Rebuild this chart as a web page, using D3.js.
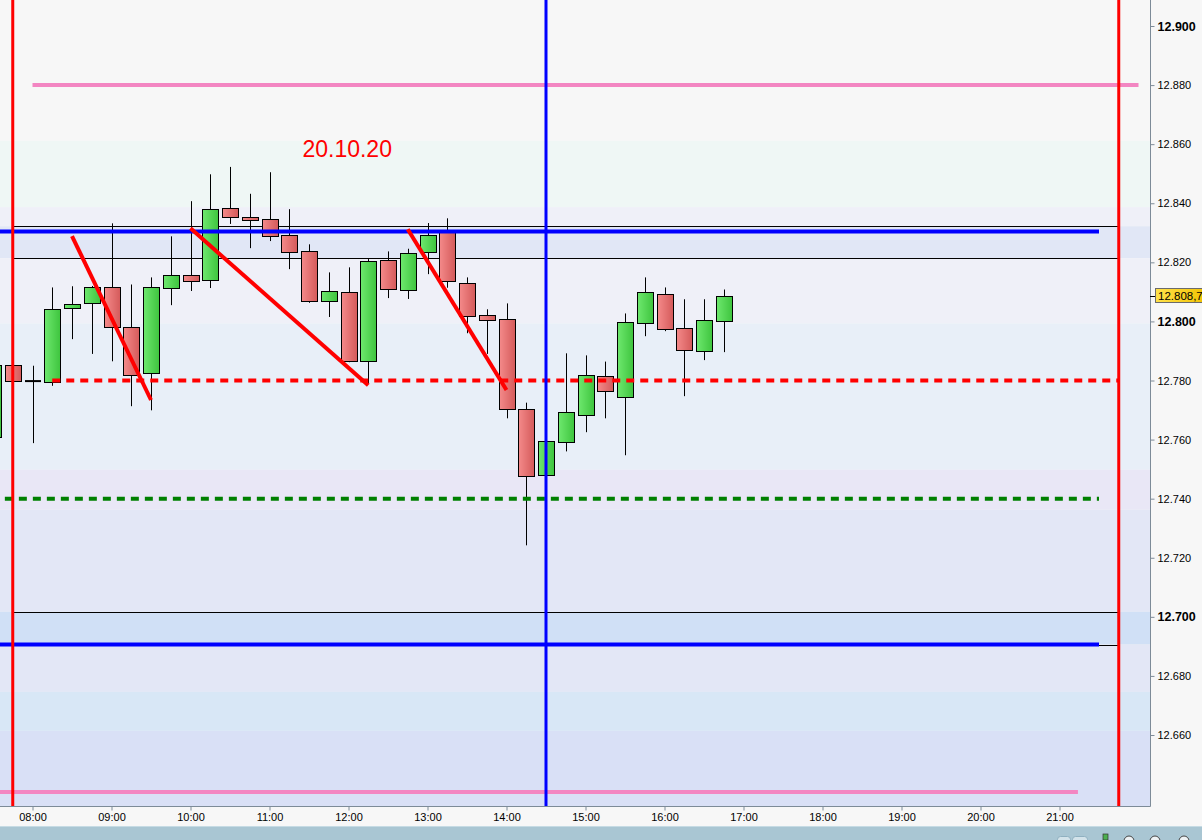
<!DOCTYPE html>
<html>
<head>
<meta charset="utf-8">
<script src="https://cdn.jsdelivr.net/npm/d3@7"></script>
<style>
  body { margin: 0; background: #f7f7f7; overflow: hidden; }
  svg { display: block; font-family: "Liberation Sans", Arial, sans-serif; }
</style>
</head>
<body>
<div id="chart"></div>
<script>
// 15 min candles, 20.10.20
var times  = ["07:30","07:45","08:00","08:15","08:30","08:45","09:00","09:15","09:30","09:45",
              "10:00","10:15","10:30","10:45","11:00","11:15","11:30","11:45","12:00","12:15",
              "12:30","12:45","13:00","13:15","13:30","13:45","14:00","14:15","14:30","14:45",
              "15:00","15:15","15:30","15:45","16:00","16:15","16:30","16:45"];
var opens  = [12.7607,12.7851,12.7798,12.7796,12.8047,12.8063,12.8118,12.7982,12.7826,12.8114,
              12.8158,12.8141,12.8385,12.8352,12.8348,12.8294,12.8240,12.8070,12.8100,12.7867,
              12.8209,12.8107,12.8236,12.8305,12.8131,12.8023,12.8009,12.7704,12.7480,12.7592,
              12.7684,12.7816,12.7745,12.7996,12.8094,12.7979,12.7901,12.8002];
var highs  = [12.7870,12.7855,12.7850,12.8115,12.8119,12.8120,12.8332,12.8125,12.8149,12.8288,
              12.8407,12.8498,12.8523,12.8432,12.8505,12.8380,12.8261,12.8166,12.8183,12.8211,
              12.8237,12.8246,12.8333,12.8349,12.8149,12.8041,12.8061,12.7725,12.7600,12.7892,
              12.7885,12.7864,12.8027,12.8149,12.8115,12.8075,12.8075,12.8108];
var lows   = [12.7580,12.7797,12.7588,12.7782,12.7940,12.7890,12.7865,12.7713,12.7699,12.8055,
              12.8103,12.8113,12.8330,12.8248,12.8272,12.8177,12.8063,12.8015,12.7862,12.7789,
              12.8079,12.8076,12.8160,12.8114,12.7960,12.7890,12.7672,12.7242,12.7480,12.7560,
              12.7625,12.7672,12.7547,12.7950,12.7967,12.7747,12.7869,12.7896];
var closes = [12.7851,12.7797,12.7798,12.8043,12.8060,12.8118,12.7982,12.7819,12.8118,12.8158,
              12.8138,12.8382,12.8355,12.8341,12.8290,12.8236,12.8070,12.8104,12.7867,12.8206,
              12.8111,12.8233,12.8294,12.8135,12.8019,12.8006,12.7704,12.7477,12.7596,12.7694,
              12.7819,12.7765,12.7999,12.8101,12.7975,12.7904,12.8006,12.8087];
var lastPrice = 12.8087;

var hourTicks  = ["08:00","09:00","10:00","11:00","12:00","13:00","14:00",
                  "15:00","16:00","17:00","18:00","19:00","20:00","21:00"];
var priceTicks = [12.66,12.68,12.70,12.72,12.74,12.76,12.78,12.80,12.82,12.84,12.86,12.88,12.90];

// background colour zones (price edges, top to bottom)
var bandEdges  = [12.92,12.8611,12.8387,12.8322,12.8214,12.7993,12.7498,12.7363,12.7017,12.6906,12.6746,12.6614,12.62];
var bandColors = ["#f7f7f7","#eff7f5","#eff0f8","#e1e7f6","#eff0f8","#e8eff8",
                  "#e9e7f6","#e3e7f6","#d0e0f6","#e3e7f6","#d8e7f6","#d9e0f6"];

// drawn objects
var zoneLines   = [12.8323,12.8215,12.7018,12.6906];
var blueLevels  = [12.8304,12.6906];
var redLevel    = 12.780;
var greenLevel  = 12.740;
var pinkLevels  = [12.880,12.6407];
var markerTimes = ["07:45","14:30","21:45"];
var trendFrom   = [["08:30",12.8289],["10:00",12.8315],["12:45",12.8312]];
var trendTo     = [["09:30",12.7734],["12:15",12.7784],["14:00",12.7768]];
var dateLabel   = "20.10.20";

function mins(s) { var p = s.split(":"); return +p[0] * 60 + +p[1]; }

var W = 1202, H = 840, plotW = 1150, plotH = 806;

var x = d3.scaleLinear().domain([mins("08:00"), mins("21:00")]).range([32.5, 1059.5]);
var y = d3.scaleLinear().domain([12.66, 12.90]).range([735, 26]);

var svg = d3.select("#chart").append("svg")
  .attr("width", W)
  .attr("height", H);

var defs = svg.append("defs");
defs.append("clipPath").attr("id", "plot")
  .append("rect").attr("width", plotW).attr("height", plotH);

function grad(id, c1, c2) {
  var g = defs.append("linearGradient").attr("id", id)
    .attr("x1", "0%").attr("x2", "100%").attr("y1", "0%").attr("y2", "0%");
  g.append("stop").attr("offset", "0%").attr("stop-color", c1);
  g.append("stop").attr("offset", "100%").attr("stop-color", c2);
}
grad("up", "#6ee86e", "#3ec43e");
grad("down", "#f48a8a", "#d45a5a");
grad("price", "#ffe14a", "#f2c200");

svg.append("rect").attr("width", W).attr("height", H).attr("fill", "#f7f7f7");

var plot = svg.append("g").attr("clip-path", "url(#plot)");

// bands
plot.append("g").selectAll("rect")
  .data(bandColors)
  .enter().append("rect")
  .attr("x", 0)
  .attr("width", plotW)
  .attr("y", function (d, i) { return y(bandEdges[i]); })
  .attr("height", function (d, i) { return y(bandEdges[i + 1]) - y(bandEdges[i]); })
  .attr("fill", function (d) { return d; });

// thin black zone borders
plot.append("g").selectAll("line")
  .data(zoneLines)
  .enter().append("line")
  .attr("x1", x(mins("07:45")) + 1)
  .attr("x2", x(mins("21:45")))
  .attr("y1", function (d) { return Math.round(y(d)) + 0.5; })
  .attr("y2", function (d) { return Math.round(y(d)) + 0.5; })
  .attr("stroke", "#000")
  .attr("stroke-width", 1);

// candles
var candles = plot.append("g").selectAll("g")
  .data(times)
  .enter().append("g");

candles.append("line")
  .attr("x1", function (d) { return Math.round(x(mins(d))) + 0.5; })
  .attr("x2", function (d) { return Math.round(x(mins(d))) + 0.5; })
  .attr("y1", function (d, i) { return y(highs[i]); })
  .attr("y2", function (d, i) { return y(lows[i]); })
  .attr("stroke", "#000")
  .attr("stroke-width", 1);

candles.each(function (d, i) {
  var g = d3.select(this);
  var cx = Math.round(x(mins(d)));
  var yo = y(opens[i]), yc = y(closes[i]);
  if (Math.abs(yo - yc) < 1) {
    g.append("line")
      .attr("x1", cx - 8).attr("x2", cx + 8)
      .attr("y1", yo).attr("y2", yo)
      .attr("stroke", "#000").attr("stroke-width", 2);
  } else {
    g.append("rect")
      .attr("x", cx - 7.5)
      .attr("width", 16)
      .attr("y", Math.round(Math.min(yo, yc)) + 0.5)
      .attr("height", Math.round(Math.abs(yo - yc)))
      .attr("fill", closes[i] > opens[i] ? "url(#up)" : "url(#down)")
      .attr("stroke", "#000")
      .attr("stroke-width", 1);
  }
});

// blue levels
plot.append("g").selectAll("line")
  .data(blueLevels)
  .enter().append("line")
  .attr("x1", 0)
  .attr("x2", x(mins("21:30")))
  .attr("y1", function (d) { return y(d); })
  .attr("y2", function (d) { return y(d); })
  .attr("stroke", "#0000ff")
  .attr("stroke-width", 4);

// dashed levels
plot.append("line")
  .attr("x1", x(mins("08:15"))).attr("x2", x(mins("21:45")))
  .attr("y1", y(redLevel)).attr("y2", y(redLevel))
  .attr("stroke", "#ff0000").attr("stroke-width", 4)
  .attr("stroke-dasharray", "8,6");

plot.append("line")
  .attr("x1", x(mins("07:39"))).attr("x2", x(mins("21:30")))
  .attr("y1", y(greenLevel)).attr("y2", y(greenLevel))
  .attr("stroke", "#008000").attr("stroke-width", 4)
  .attr("stroke-dasharray", "8,6");

// pink levels
plot.append("line")
  .attr("x1", x(mins("08:00"))).attr("x2", x(mins("22:00")))
  .attr("y1", y(pinkLevels[0])).attr("y2", y(pinkLevels[0]))
  .attr("stroke", "#f386c2").attr("stroke-width", 4);
plot.append("line")
  .attr("x1", 0).attr("x2", x(mins("21:14")))
  .attr("y1", y(pinkLevels[1])).attr("y2", y(pinkLevels[1]))
  .attr("stroke", "#f386c2").attr("stroke-width", 4);

// vertical markers
plot.append("g").selectAll("line")
  .data(markerTimes)
  .enter().append("line")
  .attr("x1", function (d) { return x(mins(d)); })
  .attr("x2", function (d) { return x(mins(d)); })
  .attr("y1", 0)
  .attr("y2", plotH)
  .attr("stroke", function (d, i) { return i == 1 ? "#0000ff" : "#ff0000"; })
  .attr("stroke-width", 3);

// trend lines
plot.append("g").selectAll("line")
  .data(trendFrom)
  .enter().append("line")
  .attr("x1", function (d) { return x(mins(d[0])); })
  .attr("y1", function (d) { return y(d[1]); })
  .attr("x2", function (d, i) { return x(mins(trendTo[i][0])); })
  .attr("y2", function (d, i) { return y(trendTo[i][1]); })
  .attr("stroke", "#ff0000")
  .attr("stroke-width", 4);

// date label
plot.append("text")
  .attr("x", x(mins("11:25")))
  .attr("y", y(12.8557))
  .attr("fill", "#ff0000")
  .attr("font-size", "23px")
  .text(dateLabel);

// plot border
svg.append("line")
  .attr("x1", plotW + 0.5).attr("x2", plotW + 0.5)
  .attr("y1", 0).attr("y2", plotH + 0.5)
  .attr("stroke", "#7d8b98");
svg.append("line")
  .attr("x1", 0).attr("x2", plotW + 0.5)
  .attr("y1", plotH + 0.5).attr("y2", plotH + 0.5)
  .attr("stroke", "#7d8b98");

// price axis
function isRound(d) { return Math.abs(d * 10 - Math.round(d * 10)) < 1e-6; }

var yAxis = svg.append("g")
  .attr("transform", "translate(" + (plotW + 0.5) + ",0)")
  .call(d3.axisRight(y).tickValues(priceTicks).tickSize(4).tickFormat(d3.format(".3f")));
yAxis.select(".domain").remove();
yAxis.selectAll("line").attr("stroke", "#7d8b98");
yAxis.selectAll("text")
  .attr("font-family", "'Liberation Sans', Arial, sans-serif")
  .attr("fill", "#000")
  .attr("font-weight", function (d) { return isRound(d) ? "bold" : "normal"; })
  .attr("font-size", function (d) { return isRound(d) ? "12.5px" : "11px"; });

// last price tag
var ly = Math.round(y(lastPrice));
var lastText = lastPrice.toFixed(4);
lastText = lastText.slice(0, -1) + "," + lastText.slice(-1);
svg.append("line")
  .attr("x1", plotW).attr("x2", plotW + 5)
  .attr("y1", ly + 0.5).attr("y2", ly + 0.5)
  .attr("stroke", "#000");
svg.append("rect")
  .attr("x", plotW + 5.5).attr("y", ly - 7.5)
  .attr("width", 52).attr("height", 14)
  .attr("fill", "url(#price)")
  .attr("stroke", "#6b6b6b");
svg.append("text")
  .attr("x", plotW + 8).attr("y", ly + 4)
  .attr("font-size", "11.5px")
  .attr("fill", "#000")
  .text(lastText);

// time axis
var xAxis = svg.append("g")
  .attr("transform", "translate(0," + (plotH + 0.5) + ")")
  .call(d3.axisBottom(x).tickValues(hourTicks.map(mins)).tickSize(4)
    .tickFormat(function (d, i) { return hourTicks[i]; }));
xAxis.select(".domain").remove();
xAxis.selectAll("line").attr("stroke", "#7d8b98");
xAxis.selectAll("text")
  .attr("font-size", "11px")
  .attr("font-family", "'Liberation Sans', Arial, sans-serif")
  .attr("fill", "#000");

// bottom tool bar
svg.append("rect")
  .attr("x", 0).attr("y", 826).attr("width", W).attr("height", 14)
  .attr("fill", "#a9c6d3");
svg.append("line")
  .attr("x1", 0).attr("x2", W).attr("y1", 826.5).attr("y2", 826.5)
  .attr("stroke", "#c6dbe4");
svg.append("rect").attr("x", 1057.5).attr("y", 836.5).attr("width", 13).attr("height", 8).attr("rx", 3)
  .attr("fill", "#d3e3ea").attr("stroke", "#8fb0c0");
svg.append("rect").attr("x", 1072.5).attr("y", 836.5).attr("width", 15).attr("height", 8).attr("rx", 3)
  .attr("fill", "#d3e3ea").attr("stroke", "#8fb0c0");
svg.append("rect").attr("x", 1103).attr("y", 834).attr("width", 5).attr("height", 6)
  .attr("fill", "#4caf50").attr("stroke", "#333").attr("stroke-width", 0.7);
svg.append("g").selectAll("circle")
  .data([1129, 1155, 1184])
  .enter().append("circle")
  .attr("cx", function (d) { return d; })
  .attr("cy", 841)
  .attr("r", 5)
  .attr("fill", "#eef2f4")
  .attr("stroke", "#444");
</script>
</body>
</html>
